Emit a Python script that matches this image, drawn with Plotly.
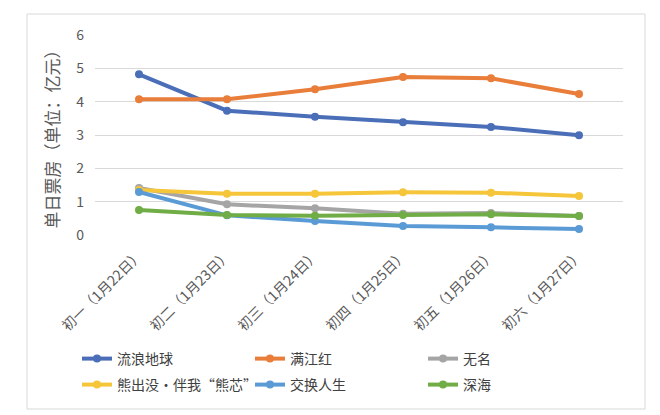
import plotly.graph_objects as go

categories = ["初一（1月22日）", "初二（1月23日）", "初三（1月24日）",
              "初四（1月25日）", "初五（1月26日）", "初六（1月27日）"]
series_names = ["流浪地球", "满江红", "无名", "熊出没·伴我“熊芯”", "交换人生", "深海"]
liulang = [4.82, 3.73, 3.55, 3.38, 3.24, 2.99]
manjiang = [4.07, 4.07, 4.37, 4.74, 4.70, 4.23]
wuming = [1.41, 0.92, 0.80, 0.64, 0.66, 0.57]
xiongchumo = [1.35, 1.24, 1.24, 1.28, 1.27, 1.17]
jiaohuan = [1.29, 0.59, 0.42, 0.27, 0.23, 0.18]
shenhai = [0.75, 0.60, 0.58, 0.60, 0.62, 0.57]
y_ticks = [0, 1, 2, 3, 4, 5, 6]

values = [liulang, manjiang, wuming, xiongchumo, jiaohuan, shenhai]
colors = ["#4A6FB8", "#E97D3A", "#A5A5A5", "#F5C53A", "#5B9BD5", "#70AD47"]
legends = ["legend", "legend", "legend", "legend2", "legend2", "legend2"]

FONT = "Noto Sans CJK SC"
fig = go.Figure()
for name, vals, col, lg in zip(series_names, values, colors, legends):
    fig.add_trace(go.Scatter(
        x=categories, y=vals, name=name, mode="lines+markers",
        line=dict(color=col, width=4), marker=dict(color=col, size=8),
        legend=lg))

# page body has an 8px margin; layout numbers below are window pixels
OFF = 8
W, H = 660 - OFF, 415 - OFF
PL, PR, PT, PB = 95, 623, 35, 235  # plot area in window px
L, R, T, B = PL - OFF, W - (PR - OFF), PT - OFF, H - (PB - OFF)
pw, ph = PR - PL, PB - PT

def px_x(p):
    return (p - PL) / pw

def px_y(p):
    return (PB - p) / ph

leg_common = dict(orientation="h", xanchor="left", yanchor="middle",
                  font=dict(family=FONT, size=14, color="#404040"),
                  entrywidth=128, bgcolor="rgba(0,0,0,0)", itemclick=False)

fig.update_layout(
    width=W, height=H,
    margin=dict(l=L, r=R, t=T, b=B),
    paper_bgcolor="white", plot_bgcolor="white",
    font=dict(family=FONT, color="#595959"),
    legend=dict(x=px_x(77), y=px_y(359), **leg_common),
    legend2=dict(x=px_x(77), y=px_y(385), **leg_common),
    xaxis=dict(type="category", range=[-0.5, 5.5], showgrid=False,
               showline=False, zeroline=False, tickangle=-45,
               tickfont=dict(family=FONT, size=14, color="#595959"),
               ticks="", ticklen=0, ticklabelstandoff=8),
    yaxis=dict(range=[0, 6], tickvals=y_ticks, showgrid=True,
               gridcolor="#D9D9D9", gridwidth=1, zeroline=False,
               showline=False,
               tickfont=dict(family=FONT, size=14, color="#595959"),
               ticks="", ticklabelstandoff=10,
               title=dict(text="单日票房（单位：亿元）",
                          font=dict(family=FONT, size=17, color="#595959"),
                          standoff=12)),
    shapes=[dict(type="rect", xref="paper", yref="paper",
                 x0=px_x(27), x1=px_x(645), y0=px_y(409), y1=px_y(14),
                 line=dict(color="#D9D9D9", width=1), layer="below")],
)

fig.write_html("out.html")
